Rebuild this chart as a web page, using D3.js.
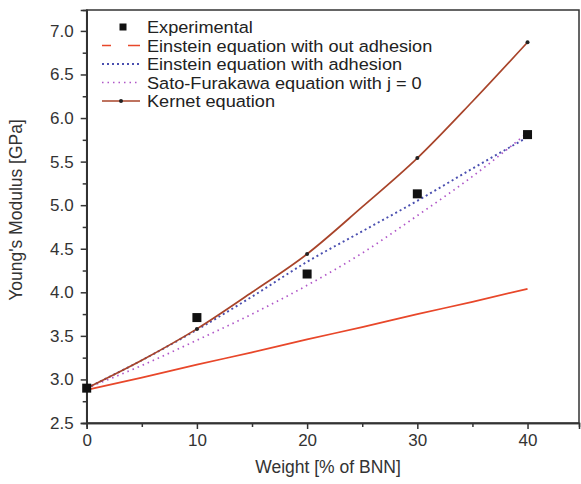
<!DOCTYPE html>
<html>
<head>
<meta charset="utf-8">
<script src="https://cdn.jsdelivr.net/npm/d3@7"></script>
<style>
    body { margin: 0; background: #fff; }
    text { font-family: "Liberation Sans", Arial, sans-serif; }
</style>
</head>
<body>
<svg id="chart" width="581" height="484"></svg>
<script>
// weight fraction of BNN [%]
const weights = [0, 5, 10, 15, 20, 25, 30, 35, 40];
const expWeights = [0, 10, 20, 30, 40];

// Young's modulus [GPa]
const experimental = [2.9, 3.71, 4.21, 5.13, 5.81];
const einsteinNoAdhesion = [2.88, 3.02, 3.17, 3.31, 3.46, 3.6, 3.75, 3.89, 4.04];
const einsteinAdhesion = [2.9, 3.22, 3.57, 3.95, 4.35, 4.7, 5.05, 5.42, 5.78];
const satoFurukawa = [2.9, 3.16, 3.45, 3.75, 4.08, 4.45, 4.88, 5.33, 5.83];
const kernet = [2.9, 3.22, 3.58, 4.0, 4.44, 4.98, 5.54, 6.19, 6.87];

const legendLabels = [
    "Experimental",
    "Einstein equation with out adhesion",
    "Einstein equation with adhesion",
    "Sato-Furakawa equation with j = 0",
    "Kernet equation"
];

const xTicks = [0, 10, 20, 30, 40];
const yTicks = [2.5, 3.0, 3.5, 4.0, 4.5, 5.0, 5.5, 6.0, 6.5, 7.0];

const svg = d3.select("#chart");

const plotLeft = 86.7, plotRight = 579, plotTop = 10, plotBottom = 423;

const xScale = d3.scaleLinear().domain([0, 44.67]).range([plotLeft, plotRight]);
const yScale = d3.scaleLinear().domain([2.5, 7.24]).range([plotBottom, plotTop]);

// frame
svg.append("rect")
    .attr("x", plotLeft).attr("y", plotTop)
    .attr("width", plotRight - plotLeft).attr("height", plotBottom - plotTop)
    .attr("fill", "none").attr("stroke", "#333").attr("stroke-width", 1.5);

// x axis
const xAxis = svg.append("g")
    .attr("transform", `translate(0, ${plotBottom})`)
    .call(d3.axisBottom(xScale).tickValues(xTicks).tickSize(6).tickPadding(5));
xAxis.append("g").call(d3.axisBottom(xScale).tickValues([5, 15, 25, 35]).tickSize(4).tickFormat(""));

// y axis
const yAxis = svg.append("g")
    .attr("transform", `translate(${plotLeft}, 0)`)
    .call(d3.axisLeft(yScale).tickValues(yTicks).tickSize(6).tickPadding(7).tickFormat(d3.format(".1f")));
yAxis.append("g").call(d3.axisLeft(yScale).tickValues(d3.range(2.75, 7.25, 0.5)).tickSize(4).tickFormat(""));

svg.selectAll(".domain").attr("stroke", "#333").attr("stroke-width", 1.5);
svg.selectAll(".tick line").attr("stroke", "#333").attr("stroke-width", 1.5);
svg.selectAll(".tick text").attr("font-size", 17).attr("fill", "#333")
    .attr("font-family", "'Liberation Sans', Arial, sans-serif");

// axis titles
svg.append("text")
    .attr("x", 328).attr("y", 473)
    .attr("text-anchor", "middle").attr("font-size", 17.5).attr("fill", "#333")
    .text("Weight [% of BNN]");
svg.append("text")
    .attr("transform", "translate(22, 210) rotate(-90)")
    .attr("text-anchor", "middle").attr("font-size", 17.5).attr("fill", "#333")
    .text("Young's Modulus [GPa]");

// lines
const line = d3.line()
    .x(function (d) { return xScale(d[0]); })
    .y(function (d) { return yScale(d[1]); })
    .curve(d3.curveMonotoneX);

function pairs(xs, ys) {
    return xs.map(function (x, i) { return [x, ys[i]]; });
}

const series = [
    { values: einsteinNoAdhesion, color: "#e8472a", width: 1.7, dash: null },
    { values: satoFurukawa, color: "#b056c8", width: 1.7, dash: "1.5,4" },
    { values: einsteinAdhesion, color: "#4a4fb0", width: 1.9, dash: "2,3" },
    { values: kernet, color: "#a8442a", width: 1.7, dash: null }
];

series.forEach(function (s) {
    svg.append("path")
        .datum(pairs(weights, s.values))
        .attr("d", line)
        .attr("fill", "none")
        .attr("stroke", s.color)
        .attr("stroke-width", s.width)
        .attr("stroke-dasharray", s.dash);
});

// kernet markers
svg.selectAll(".kmark")
    .data(pairs(weights, kernet).filter(function (d) { return d[0] % 10 === 0; }))
    .join("circle")
    .attr("cx", function (d) { return xScale(d[0]); })
    .attr("cy", function (d) { return yScale(d[1]); })
    .attr("r", 2)
    .attr("fill", "#222");

// experimental squares
svg.selectAll(".exp")
    .data(pairs(expWeights, experimental))
    .join("rect")
    .attr("x", function (d) { return xScale(d[0]) - 4.5; })
    .attr("y", function (d) { return yScale(d[1]) - 4.5; })
    .attr("width", 9).attr("height", 9)
    .attr("fill", "#111");

// legend
const legend = svg.append("g");
const rowY = [27, 45.5, 64, 82.5, 101];
legendLabels.forEach(function (label, i) {
    legend.append("text")
        .attr("transform", `translate(147, ${rowY[i] + 6}) scale(1.1, 1)`)
        .attr("font-size", 16.5).attr("fill", "#222")
        .text(label);
});
legend.append("rect").attr("x", 119.5).attr("y", rowY[0] - 3.5).attr("width", 7).attr("height", 7).attr("fill", "#111");
legend.append("line").attr("x1", 102).attr("x2", 140).attr("y1", rowY[1]).attr("y2", rowY[1])
    .attr("stroke", "#e8472a").attr("stroke-width", 1.7).attr("stroke-dasharray", "9,17,12");
legend.append("line").attr("x1", 102).attr("x2", 140).attr("y1", rowY[2]).attr("y2", rowY[2])
    .attr("stroke", "#4a4fb0").attr("stroke-width", 1.9).attr("stroke-dasharray", "2,3");
legend.append("line").attr("x1", 102).attr("x2", 140).attr("y1", rowY[3]).attr("y2", rowY[3])
    .attr("stroke", "#b056c8").attr("stroke-width", 1.7).attr("stroke-dasharray", "1.5,4");
legend.append("line").attr("x1", 102).attr("x2", 140).attr("y1", rowY[4]).attr("y2", rowY[4])
    .attr("stroke", "#a8442a").attr("stroke-width", 1.7);
legend.append("circle").attr("cx", 121).attr("cy", rowY[4]).attr("r", 2).attr("fill", "#222");
</script>
</body>
</html>
